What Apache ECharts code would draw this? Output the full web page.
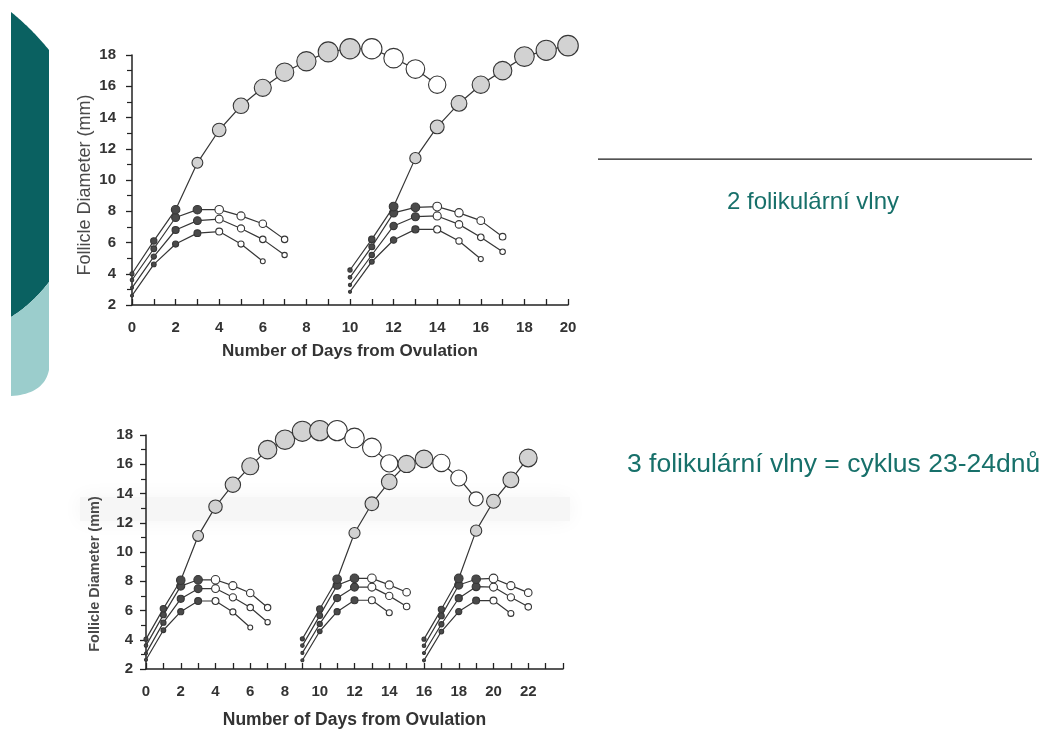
<!DOCTYPE html>
<html><head><meta charset="utf-8">
<style>html,body{margin:0;padding:0;background:#fff}#c{width:1045px;height:731px}</style>
<script src="https://cdn.jsdelivr.net/npm/echarts@6/dist/echarts.min.js"></script>
</head><body><div id="c"></div><script>
// ---------- DATA (follicle diameter in mm, one value per day from wave start) ----------
// Top chart: 2 follicular waves
const topWave1Start = 0;
const topWave1Dominant = [4.0, 6.1, 8.1, 11.1, 13.2, 14.75, 15.9, 16.9, 17.6, 18.2, 18.4, 18.4, 17.8, 17.1, 16.1];
const topWave1Sub1 = [3.6, 5.6, 7.6, 8.1, 8.1, 7.7, 7.2, 6.2];
const topWave1Sub2 = [3.1, 5.1, 6.8, 7.4, 7.5, 6.9, 6.2, 5.2];
const topWave1Sub3 = [2.6, 4.6, 5.9, 6.6, 6.7, 5.9, 4.8];
const topWave2Start = 10;
const topWave2Dominant = [4.24, 6.2, 8.3, 11.4, 13.4, 14.9, 16.1, 17.0, 17.9, 18.3, 18.6];
const topWave2Sub1 = [3.77, 5.73, 7.9, 8.25, 8.3, 7.9, 7.4, 6.37];
const topWave2Sub2 = [3.28, 5.2, 7.06, 7.65, 7.7, 7.16, 6.33, 5.41];
const topWave2Sub3 = [2.85, 4.77, 6.16, 6.84, 6.84, 6.1, 4.94];
// Bottom chart: 3 follicular waves
const botWave1Start = 0;
const botWave1Dominant = [4.04, 6.13, 8.07, 11.1, 13.1, 14.6, 15.86, 17.0, 17.68, 18.25, 18.3, 18.3, 17.8, 17.15, 16.06];
const botWave1Sub1 = [3.6, 5.7, 7.67, 8.1, 8.1, 7.7, 7.2, 6.2];
const botWave1Sub2 = [3.07, 5.17, 6.8, 7.49, 7.5, 6.9, 6.2, 5.2];
const botWave1Sub3 = [2.63, 4.65, 5.92, 6.65, 6.65, 5.9, 4.84];
const botWave2Start = 9;
const botWave2Dominant = [4.06, 6.1, 8.14, 11.3, 13.3, 14.8, 16.02, 16.36, 16.09, 15.06, 13.63];
const botWave2Sub1 = [3.6, 5.65, 7.73, 8.2, 8.2, 7.75, 7.25];
const botWave2Sub2 = [3.1, 5.08, 6.85, 7.6, 7.6, 7.0, 6.27];
const botWave2Sub3 = [2.6, 4.58, 5.92, 6.7, 6.7, 5.85];
const botWave3Start = 16;
const botWave3Dominant = [4.04, 6.08, 8.19, 11.46, 13.47, 14.93, 16.43];
const botWave3Sub1 = [3.59, 5.63, 7.74, 8.14, 8.19, 7.7, 7.22];
const botWave3Sub2 = [3.09, 5.06, 6.84, 7.63, 7.6, 6.9, 6.25];
const botWave3Sub3 = [2.59, 4.56, 5.93, 6.68, 6.68, 5.8];

const yTickValues = [2, 4, 6, 8, 10, 12, 14, 16, 18];
const axisTitleX = 'Number of Days from Ovulation';
const axisTitleY = 'Follicle Diameter (mm)';
const note1 = '2 folikulární vlny';
const note2 = '3 folikulární vlny = cyklus 23-24dnů';

// ---------- STYLE ----------
const INK = '#363636';
const DARK = '#4a4a4a', LIGHT = '#d2d2d2', WHITE = '#ffffff';
const TEAL_TXT = '#17706a';
const FONT = "'Liberation Sans', Arial, sans-serif";

function subSize(v) { return Math.max(3, 1.1 * (v - 2) + 1.8); }
function domSize(v) { return 1.3 * (v - 2) - 1; }

function buildSeries(axisIndex, start, values, kind, regressFrom) {
  const data = values.map((v, i) => {
    let color, size;
    if (kind === 'dom') {
      if (i <= 2) { color = DARK; size = subSize(v); }
      else { color = (regressFrom != null && i >= regressFrom) ? WHITE : LIGHT; size = domSize(v); }
    } else {
      color = i <= 3 ? DARK : WHITE; size = subSize(v);
    }
    return { value: [start + i, v], symbolSize: size, itemStyle: { color } };
  });
  return {
    type: 'line', xAxisIndex: axisIndex, yAxisIndex: axisIndex, data,
    symbol: 'circle', showSymbol: true, silent: true, animation: false, clip: false,
    z: kind === 'dom' ? 3 : 2,
    lineStyle: { color: INK, width: 1.2 },
    itemStyle: { borderColor: INK, borderWidth: 1.1 },
    emphasis: { disabled: true }
  };
}

const series = [
  buildSeries(0, topWave1Start, topWave1Sub3, 'sub'),
  buildSeries(0, topWave1Start, topWave1Sub2, 'sub'),
  buildSeries(0, topWave1Start, topWave1Sub1, 'sub'),
  buildSeries(0, topWave2Start, topWave2Sub3, 'sub'),
  buildSeries(0, topWave2Start, topWave2Sub2, 'sub'),
  buildSeries(0, topWave2Start, topWave2Sub1, 'sub'),
  buildSeries(0, topWave1Start, topWave1Dominant, 'dom', 11),
  buildSeries(0, topWave2Start, topWave2Dominant, 'dom', null),
  buildSeries(1, botWave1Start, botWave1Sub3, 'sub'),
  buildSeries(1, botWave1Start, botWave1Sub2, 'sub'),
  buildSeries(1, botWave1Start, botWave1Sub1, 'sub'),
  buildSeries(1, botWave2Start, botWave2Sub3, 'sub'),
  buildSeries(1, botWave2Start, botWave2Sub2, 'sub'),
  buildSeries(1, botWave2Start, botWave2Sub1, 'sub'),
  buildSeries(1, botWave3Start, botWave3Sub3, 'sub'),
  buildSeries(1, botWave3Start, botWave3Sub2, 'sub'),
  buildSeries(1, botWave3Start, botWave3Sub1, 'sub'),
  buildSeries(1, botWave1Start, botWave1Dominant, 'dom', 11),
  buildSeries(1, botWave2Start, botWave2Dominant, 'dom', 8),
  buildSeries(1, botWave3Start, botWave3Dominant, 'dom', null)
];

function xAxis(gi, max, nameSize, nameGap) {
  return {
    type: 'value', gridIndex: gi, min: 0, max: max, interval: 1,
    name: axisTitleX, nameLocation: 'middle', nameGap: nameGap,
    nameTextStyle: { fontFamily: FONT, fontWeight: 'bold', fontSize: nameSize, color: '#333' },
    axisLine: { show: true, onZero: false, lineStyle: { color: '#222', width: 1.5 } },
    axisTick: { show: true, inside: true, length: 6, lineStyle: { color: '#222', width: 1.3 } },
    axisLabel: { margin: 15, fontFamily: FONT, fontWeight: 'bold', fontSize: 15, color: '#333',
      formatter: v => (v % 2 === 0 && v < max) || (v === max && max === 20) ? String(v) : '' },
    splitLine: { show: false }
  };
}
function yAxis(gi, nameSize, nameGap, weight, pad, lblMargin) {
  return {
    type: 'value', gridIndex: gi, min: yTickValues[0], max: yTickValues[yTickValues.length - 1], interval: 2,
    name: axisTitleY, nameLocation: 'middle', nameGap: nameGap,
    nameTextStyle: { fontFamily: FONT, fontWeight: weight, fontSize: nameSize, color: '#4a4a4a', padding: pad },
    axisLine: { show: true, lineStyle: { color: '#222', width: 1.5 } },
    axisTick: { show: true, inside: false, length: 6, lineStyle: { color: '#222', width: 1.3 } },
    minorTick: { show: true, splitNumber: 2, length: 5, lineStyle: { color: '#222', width: 1.2 } },
    axisLabel: { margin: lblMargin, fontFamily: FONT, fontWeight: 'bold', fontSize: 15, color: '#333' },
    splitLine: { show: false }
  };
}

// decoration shapes on the slide's left edge
function arcPts(cx, cy, r, x1, x2, sign, n) {
  const pts = [];
  for (let k = 0; k <= n; k++) {
    const x = x1 + (x2 - x1) * k / n;
    const dy = Math.sqrt(Math.max(0, r * r - (x - cx) * (x - cx)));
    pts.push([x, cy + sign * dy]);
  }
  return pts;
}
function quadPts(p0, c, p1, n) {
  const pts = [];
  for (let k = 0; k <= n; k++) {
    const t = k / n, u = 1 - t;
    pts.push([u * u * p0[0] + 2 * u * t * c[0] + t * t * p1[0], u * u * p0[1] + 2 * u * t * c[1] + t * t * p1[1]]);
  }
  return pts;
}
const topArc = arcPts(-142, 203, 244.7, 11, 49, -1, 24);
const split = quadPts([49, 282], [32, 304], [11, 317], 20);
const darkPoly = topArc.concat([[49, 282]], split);
const lightBottom = quadPts([49, 370], [44, 394], [11, 396], 20);
const lightPoly = split.slice().reverse().concat([[49, 282]], lightBottom);

const chart = echarts.init(document.getElementById('c'), null, { renderer: 'canvas' });
chart.setOption({
  backgroundColor: '#ffffff',
  animation: false,
  grid: [
    { left: 132, top: 55, width: 436, height: 250 },
    { left: 146, top: 435, width: 417, height: 234 }
  ],
  xAxis: [xAxis(0, 20, 17, 38), xAxis(1, 24, 17.5, 42)],
  yAxis: [yAxis(0, 18, 38, 'normal', [0, 10, 0, 0], 16), yAxis(1, 14.5, 44, 'bold', [0, 44, 0, 0], 13)],
  series: series,
  graphic: [
    { type: 'polygon', z: -1, shape: { points: darkPoly }, style: { fill: '#0a6161' } },
    { type: 'polygon', z: -1, shape: { points: lightPoly }, style: { fill: '#9bcdcc' } },
    { type: 'rect', z: -2, shape: { x: 80, y: 497, width: 490, height: 24 },
      style: { fill: '#f6f6f6', shadowBlur: 20, shadowColor: '#f4f4f4' } },
    { type: 'rect', shape: { x: 598, y: 158.5, width: 434, height: 1.3 }, style: { fill: '#1a1a1a' } },
    { type: 'text', x: 813, y: 202, style: { text: note1, fill: TEAL_TXT, font: '24px ' + FONT,
      textAlign: 'center', textVerticalAlign: 'middle' } },
    { type: 'text', x: 627, y: 465, style: { text: note2, fill: TEAL_TXT, font: '26.5px ' + FONT,
      textAlign: 'left', textVerticalAlign: 'middle' } }
  ]
});
</script></body></html>
